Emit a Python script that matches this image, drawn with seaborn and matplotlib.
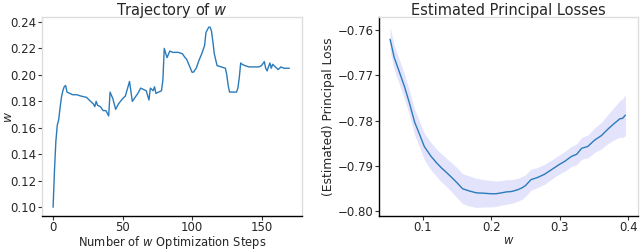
import matplotlib
matplotlib.use("Agg")
import matplotlib.pyplot as plt
import seaborn as sns
import pandas as pd

# ---- Left panel: trajectory of w ----
traj_steps = [0, 1, 2, 3, 4, 5, 6, 7, 8, 9, 10, 12, 14, 17, 20, 24, 27, 29, 30, 31, 32,
              34, 36, 38, 40, 41, 43, 45, 47, 50, 52, 55, 57, 59, 61, 63, 65, 67, 69, 70,
              72, 73, 74, 76, 78, 79, 80, 82, 84, 86, 90, 93, 95, 96, 98, 100, 101, 103,
              105, 107, 109, 110, 112, 113, 114, 115, 116, 118, 121, 124, 125, 126, 127,
              129, 132, 133, 134, 135, 136, 138, 141, 145, 148, 150, 152, 153, 154, 156,
              157, 158, 160, 162, 164, 166, 168, 170]
traj_w = [0.100, 0.128, 0.150, 0.162, 0.166, 0.175, 0.183, 0.188, 0.191, 0.192, 0.187,
          0.186, 0.185, 0.185, 0.184, 0.183, 0.180, 0.178, 0.176, 0.180, 0.177,
          0.176, 0.173, 0.173, 0.169, 0.187, 0.182, 0.174, 0.178, 0.182, 0.184,
          0.195, 0.180, 0.183, 0.186, 0.190, 0.189, 0.188, 0.181, 0.190, 0.188,
          0.191, 0.186, 0.187, 0.188, 0.196, 0.220, 0.213, 0.218, 0.217, 0.217,
          0.216, 0.213, 0.212, 0.207, 0.202, 0.202, 0.205, 0.211, 0.216, 0.222,
          0.232, 0.236, 0.236, 0.233, 0.225, 0.216, 0.207, 0.206, 0.205, 0.200,
          0.192, 0.187, 0.187, 0.187, 0.190, 0.198, 0.209, 0.208, 0.207, 0.206,
          0.206, 0.206, 0.207, 0.210, 0.205, 0.203, 0.209, 0.205, 0.208, 0.206,
          0.204, 0.206, 0.205, 0.205, 0.205]

# ---- Right panel: estimated principal losses ----
loss_w = [0.052, 0.058, 0.066, 0.073, 0.080, 0.088, 0.095, 0.102, 0.112, 0.120,
          0.127, 0.135, 0.142, 0.150, 0.158, 0.168, 0.178, 0.190, 0.200, 0.207,
          0.215, 0.222, 0.230, 0.239, 0.245, 0.250, 0.258, 0.268, 0.278, 0.288,
          0.298, 0.308, 0.317, 0.325, 0.332, 0.341, 0.351, 0.361, 0.371, 0.380,
          0.388, 0.392, 0.396]
loss_mean = [-0.7621, -0.7661, -0.7695, -0.7725, -0.7760, -0.7804, -0.7830, -0.7857,
             -0.7879, -0.7893, -0.7904, -0.7915, -0.7925, -0.7937, -0.7950, -0.7955,
             -0.7959, -0.7960, -0.7961, -0.7961, -0.7959, -0.7957, -0.7956, -0.7952,
             -0.7948, -0.7943, -0.7930, -0.7925, -0.7918, -0.7908, -0.7898, -0.7889,
             -0.7879, -0.7874, -0.7861, -0.7857, -0.7843, -0.7833, -0.7818, -0.7806,
             -0.7796, -0.7795, -0.7788]
loss_halfwidth = [0.0027, 0.0027, 0.0027, 0.0027, 0.0027, 0.0028, 0.0028, 0.0029,
                  0.0030, 0.0030, 0.0031, 0.0031, 0.0032, 0.0033, 0.0033, 0.0033,
                  0.0032, 0.0030, 0.0029, 0.0028, 0.0027, 0.0027, 0.0026, 0.0025,
                  0.0025, 0.0024, 0.0023, 0.0022, 0.0022, 0.0021, 0.0021, 0.0022,
                  0.0022, 0.0023, 0.0024, 0.0025, 0.0027, 0.0029, 0.0032, 0.0036,
                  0.0040, 0.0043, 0.0045]

loss_lower = [m - h for m, h in zip(loss_mean, loss_halfwidth)]
loss_upper = [m + h for m, h in zip(loss_mean, loss_halfwidth)]

sns.set_style("white")
plt.rcParams["font.family"] = ["DejaVu Sans"]

line_color = "#2b7bba"
light = "#dddddd"

fig = plt.figure(figsize=(6.4, 2.5), dpi=100)
ax1 = fig.add_axes([0.0656, 0.136, 0.406, 0.796])
ax2 = fig.add_axes([0.592, 0.136, 0.405, 0.796])

df1 = pd.DataFrame({"step": traj_steps, "w": traj_w})
sns.lineplot(data=df1, x="step", y="w", ax=ax1, color=line_color, lw=1.0)
ax1.set_xlim(-8, 179)
ax1.set_ylim(0.0934, 0.2437)
ax1.set_xticks([0, 50, 100, 150])
ax1.set_yticks([0.10, 0.12, 0.14, 0.16, 0.18, 0.20, 0.22, 0.24])
ax1.set_title("Trajectory of $w$", fontsize=10.5, pad=1.5)
ax1.set_xlabel("Number of $w$ Optimization Steps", fontsize=8.3)
ax1.set_ylabel("$w$", fontsize=8.8)

df2 = pd.DataFrame({"w": loss_w, "loss": loss_mean})
ax2.fill_between(loss_w, loss_lower, loss_upper, color="#e3e3fb", lw=0)
sns.lineplot(data=df2, x="w", y="loss", ax=ax2, color=line_color, lw=1.0)
ax2.set_xlim(0.0356, 0.4146)
ax2.set_ylim(-0.8010, -0.7572)
ax2.set_xticks([0.1, 0.2, 0.3, 0.4])
ax2.set_yticks([-0.80, -0.79, -0.78, -0.77, -0.76])
ax2.set_title("Estimated Principal Losses", fontsize=10.5, pad=1.5)
ax2.set_xlabel("$w$", fontsize=8.3)
ax2.set_ylabel("(Estimated) Principal Loss", fontsize=8.8)

ax_h_px = 0.796 * 250
for ax in (ax1, ax2):
    for s in ax.spines.values():
        s.set_color(light)
        s.set_linewidth(1.0)
    ax.spines["bottom"].set_color("black")
    ax.tick_params(axis="both", which="major", labelsize=8.5, length=3, width=0.8,
                   color="#333333", pad=1, left=True, bottom=True)
    ax.tick_params(axis="x", pad=0.5)
    ax.xaxis.label.set_verticalalignment("top")
    ax.xaxis.set_label_coords(0.5, -18.0 / ax_h_px)
ax2.spines["left"].set_color("black")
ax1.yaxis.set_label_coords(-27.0 / 260.0, 0.5)
ax2.yaxis.set_label_coords(-44.0 / 259.0, 0.5)

fig.savefig("out.png", dpi=100)
